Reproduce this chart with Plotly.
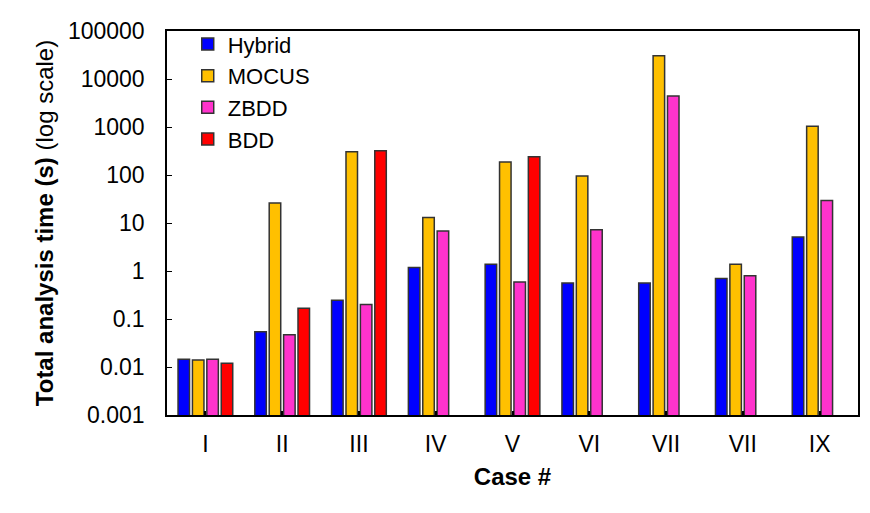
import plotly.graph_objects as go

cases = ["I", "II", "III", "IV", "V", "VI", "VII", "VII", "IX"]
hybrid = [0.0145, 0.054, 0.245, 1.18, 1.38, 0.56, 0.56, 0.70, 5.1]
mocus = [0.014, 26, 305, 13, 186, 95, 30400, 1.38, 1040]
zbdd = [0.0145, 0.047, 0.20, 6.8, 0.59, 7.2, 4420, 0.80, 29.3]
bdd = [0.012, 0.168, 319, None, 240, None, None, None, None]

y_tickvals = [0.001, 0.01, 0.1, 1, 10, 100, 1000, 10000, 100000]
y_ticktext = ["0.001", "0.01", "0.1", "1", "10", "100", "1000", "10000", "100000"]

series = [
    ("Hybrid", hybrid, "#0000FF"),
    ("MOCUS", mocus, "#FFC000"),
    ("ZBDD", zbdd, "#FF33CC"),
    ("BDD", bdd, "#FF0000"),
]

x_idx = list(range(len(cases)))

fig = go.Figure()
for name, vals, color in series:
    fig.add_trace(go.Bar(
        x=x_idx, y=vals, name=name,
        marker=dict(color=color, line=dict(color="#333333", width=1.5)),
    ))

font_family = "Arial, Liberation Sans, sans-serif"
fig.update_layout(
    width=862, height=505,
    barmode="group",
    bargap=0.25,
    bargroupgap=0.2,
    plot_bgcolor="white",
    paper_bgcolor="white",
    margin=dict(l=159, r=10, t=22, b=98),
    font=dict(family=font_family, size=23, color="black"),
    legend=dict(
        x=0.03, y=1.02, xanchor="left", yanchor="top",
        bgcolor="rgba(0,0,0,0)",
        font=dict(size=22),
        tracegroupgap=0,
    ),
    xaxis=dict(
        tickmode="array", tickvals=x_idx, ticktext=cases,
        range=[-0.5, len(cases) - 0.5],
        showline=True, linecolor="black", linewidth=1.5, mirror=True,
        ticks="inside", ticklen=4, tickcolor="black", tickwidth=2,
        ticklabelstandoff=8,
        title=dict(text="<b>Case #</b>", font=dict(size=24), standoff=12),
        tickfont=dict(size=23),
        showgrid=False,
    ),
    yaxis=dict(
        type="log", range=[-3, 5],
        tickmode="array", tickvals=y_tickvals, ticktext=y_ticktext,
        showline=True, linecolor="black", linewidth=1.5, mirror=True,
        ticks="inside", ticklen=5, tickcolor="black",
        ticklabelstandoff=16,
        title=dict(text="<b>Total analysis time (s)</b> (log scale)", font=dict(size=24), standoff=8),
        tickfont=dict(size=23),
        showgrid=False, zeroline=False,
    ),
)

fig.write_html("out.html")
